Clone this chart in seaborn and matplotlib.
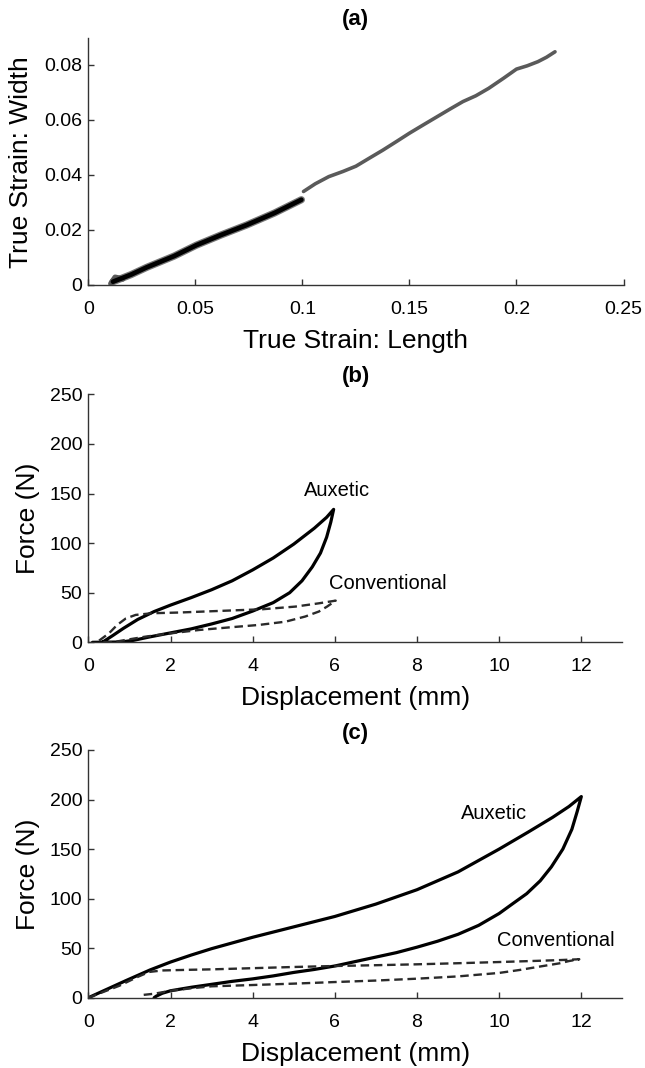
import matplotlib
matplotlib.use("Agg")
import matplotlib.pyplot as plt
import seaborn as sns
import pandas as pd

# ---------------- data ----------------
# (a) true strain: length vs width
a_dark_len = [0.0115, 0.0200, 0.0272, 0.0400, 0.0505, 0.0620, 0.0739, 0.0870, 0.0995]
a_dark_wid = [0.0012, 0.0038, 0.0064, 0.0105, 0.0145, 0.0182, 0.0218, 0.0262, 0.0310]
a_start_len = [0.0105, 0.0125, 0.0160]
a_start_wid = [0.0005, 0.0028, 0.0022]
a_grey_len = [0.1005, 0.1060, 0.1123, 0.1190, 0.1250, 0.1310, 0.1375, 0.1440, 0.1500, 0.1560,
              0.1625, 0.1690, 0.1750, 0.1810, 0.1870, 0.1940, 0.2000, 0.2050, 0.2100, 0.2140, 0.2180]
a_grey_wid = [0.0340, 0.0368, 0.0394, 0.0413, 0.0432, 0.0460, 0.0490, 0.0522, 0.0552, 0.0580,
              0.0610, 0.0640, 0.0667, 0.0688, 0.0715, 0.0752, 0.0785, 0.0797, 0.0812, 0.0828, 0.0848]
a_xticks = [0, 0.05, 0.1, 0.15, 0.2, 0.25]
a_xticklabels = ["0", "0.05", "0.1", "0.15", "0.2", "0.25"]
a_yticks = [0, 0.02, 0.04, 0.06, 0.08]
a_yticklabels = ["0", "0.02", "0.04", "0.06", "0.08"]

# (b) 6 mm cycle (loading then unloading)
b_aux_disp = [0.34, 0.60, 0.85, 1.20, 1.60, 2.00, 2.50, 3.00, 3.50, 4.00, 4.50, 5.00, 5.50, 5.80, 5.97,
              5.90, 5.80, 5.65, 5.45, 5.20, 4.90, 4.50, 4.00, 3.50, 3.00, 2.50, 2.00, 1.50, 1.10, 0.80, 0.10]
b_aux_force = [0.0, 7.0, 14.0, 23.0, 31.0, 37.5, 45.0, 53.0, 62.0, 73.0, 85.0, 99.0, 115.0, 126.0, 134.0,
               121.0, 106.0, 90.0, 76.0, 62.0, 50.0, 40.0, 31.5, 24.0, 18.5, 13.5, 9.5, 5.5, 2.0, 0.3, 0.0]
b_con_disp = [0.26, 0.50, 0.70, 0.91, 1.15, 1.55, 2.20, 3.42, 4.23, 5.04, 5.61, 6.02,
              5.81, 5.61, 5.28, 4.80, 4.15, 3.42, 2.69, 2.00, 1.39, 0.91, 0.58, 0.26]
b_con_force = [1.7, 9.0, 17.5, 24.0, 27.6, 29.3, 30.0, 32.0, 33.3, 36.0, 39.3, 42.0,
               36.0, 31.0, 26.0, 20.8, 17.5, 15.0, 12.4, 9.0, 5.7, 2.4, 0.0, 0.0]

# (c) 12 mm cycle (loading then unloading)
c_aux_disp = [0.0, 0.45, 0.90, 1.50, 2.00, 2.50, 3.00, 4.00, 5.00, 6.00, 7.00, 8.00, 9.00, 10.00,
              10.70, 11.30, 11.70, 12.00,
              11.90, 11.77, 11.55, 11.27, 11.00, 10.67, 10.30, 10.00, 9.50, 9.00, 8.50, 8.00, 7.50,
              7.00, 6.50, 6.00, 5.50, 5.00, 4.50, 4.00, 3.50, 3.00, 2.50, 2.00, 1.80, 1.65, 1.60]
c_aux_force = [0.0, 8.5, 17.0, 28.0, 36.0, 43.0, 49.5, 61.0, 71.5, 82.0, 94.5, 109.0, 127.0, 150.0,
               167.0, 182.0, 193.0, 203.0,
               188.0, 170.0, 150.0, 132.0, 118.0, 105.0, 94.0, 85.0, 73.0, 64.0, 57.0, 51.0, 45.5,
               41.0, 36.5, 32.0, 28.5, 25.5, 22.0, 19.0, 16.5, 13.5, 10.5, 7.0, 4.5, 1.5, 0.0]
c_con_disp = [0.0, 0.75, 1.20, 1.48, 1.80, 2.50, 3.00, 4.00, 5.00, 6.00, 7.00, 8.00, 9.00, 10.00,
              11.00, 11.50, 11.95,
              11.70, 11.47, 11.00, 10.50, 10.00, 9.00, 8.00, 7.00, 6.00, 5.00, 4.00, 3.00, 2.50,
              2.00, 1.60, 1.24]
c_con_force = [0.0, 12.0, 21.0, 26.0, 27.5, 28.2, 28.6, 29.8, 31.0, 32.0, 32.8, 33.7, 34.8, 36.0,
               37.3, 38.0, 38.8,
               37.0, 34.7, 31.5, 28.0, 25.0, 21.5, 19.2, 17.3, 15.8, 14.2, 12.8, 11.5, 9.5,
               7.0, 4.0, 2.4]
bc_xticks = [0, 2, 4, 6, 8, 10, 12]
bc_yticks = [0, 50, 100, 150, 200, 250]

titles = ["(a)", "(b)", "(c)"]

# ---------------- style ----------------
sns.set_style("ticks")
plt.rcParams["font.family"] = ["Liberation Sans", "DejaVu Sans"]
plt.rcParams["text.color"] = "black"
plt.rcParams["axes.labelcolor"] = "black"
plt.rcParams["xtick.color"] = "#333333"
plt.rcParams["ytick.color"] = "#333333"

fig = plt.figure(figsize=(6.45, 10.68), dpi=100)
W, H = 645.0, 1068.0

def axes_px(left, right, top, bottom):
    return fig.add_axes([left / W, 1 - bottom / H, (right - left) / W, (bottom - top) / H])

ax_a = axes_px(88.4, 623.5, 38.3, 285.0)
ax_b = axes_px(88.4, 622.4, 394.3, 642.3)
ax_c = axes_px(88.4, 622.4, 750.0, 997.7)

def style(ax):
    sns.despine(ax=ax)
    for s in ("left", "bottom"):
        ax.spines[s].set_color("#333333")
        ax.spines[s].set_linewidth(1.0)
    ax.tick_params(direction="in", length=4.5, width=1.0, color="#333333",
                   labelsize=14, labelcolor="black")
    ax.tick_params(axis="x", pad=11.5)
    ax.tick_params(axis="y", pad=4.5)

# ---- (a)
df_ad = pd.DataFrame({"x": a_dark_len, "y": a_dark_wid})
df_as = pd.DataFrame({"x": a_start_len, "y": a_start_wid})
df_ag = pd.DataFrame({"x": a_grey_len, "y": a_grey_wid})
sns.lineplot(data=df_ag, x="x", y="y", ax=ax_a, sort=False, estimator=None,
             color="#5a5a5a", lw=2.6, solid_capstyle="round", solid_joinstyle="round")
sns.lineplot(data=df_as, x="x", y="y", ax=ax_a, sort=False, estimator=None,
             color="#5a5a5a", lw=4.0, solid_capstyle="round")
sns.lineplot(data=df_ad, x="x", y="y", ax=ax_a, sort=False, estimator=None,
             color="#555555", lw=5.2, solid_capstyle="round", alpha=0.8)
sns.lineplot(data=df_ad, x="x", y="y", ax=ax_a, sort=False, estimator=None,
             color="black", lw=3.4, solid_capstyle="round")
ax_a.set_xlim(0, 0.25)
ax_a.set_ylim(0, 0.0897)
ax_a.set_xticks(a_xticks)
ax_a.set_xticklabels(a_xticklabels)
ax_a.set_yticks(a_yticks)
ax_a.set_yticklabels(a_yticklabels)
ax_a.set_xlabel("True Strain: Length", fontsize=19)
ax_a.set_ylabel("True Strain: Width", fontsize=19)
style(ax_a)

# ---- (b) and (c)
def cycle_panel(ax, aux_x, aux_y, con_x, con_y, aux_lab, con_lab):
    sns.lineplot(x=aux_x, y=aux_y, ax=ax, sort=False, estimator=None,
                 color="black", lw=2.3, solid_joinstyle="round")
    sns.lineplot(x=con_x, y=con_y, ax=ax, sort=False, estimator=None,
                 color="#2a2a2a", lw=1.7, linestyle=(0, (3.6, 2.0)))
    ax.set_xlim(0, 13)
    ax.set_ylim(0, 250)
    ax.set_xticks(bc_xticks)
    ax.set_yticks(bc_yticks)
    ax.set_xlabel("Displacement (mm)", fontsize=19)
    ax.set_ylabel("Force (N)", fontsize=19)
    ax.text(aux_lab[0], aux_lab[1], "Auxetic", fontsize=14.5, ha="center", va="center")
    ax.text(con_lab[0], con_lab[1], "Conventional", fontsize=14.5, ha="center", va="center")
    style(ax)

cycle_panel(ax_b, b_aux_disp, b_aux_force, b_con_disp, b_con_force, (6.05, 153.5), (7.30, 58.8))
cycle_panel(ax_c, c_aux_disp, c_aux_force, c_con_disp, c_con_force, (9.87, 186.0), (11.37, 58.2))

# label positions
ax_a.xaxis.set_label_coords(0.5, -44.0 / 246.7)
ax_b.xaxis.set_label_coords(0.5, -44.0 / 248.0)
ax_c.xaxis.set_label_coords(0.5, -44.0 / 247.7)
ax_a.yaxis.set_label_coords((33.0 - 88.4) / 535.1, 0.5)
ax_b.yaxis.set_label_coords((40.5 - 88.4) / 534.0, 0.5)
ax_c.yaxis.set_label_coords((40.5 - 88.4) / 534.0, 0.5)

# panel titles
for t, yc in zip(titles, [19.0, 377.0, 734.0]):
    fig.text(355.7 / W, 1 - yc / H, t, fontsize=16, fontweight="bold",
             ha="center", va="center")

fig.savefig("out.png", dpi=100)
